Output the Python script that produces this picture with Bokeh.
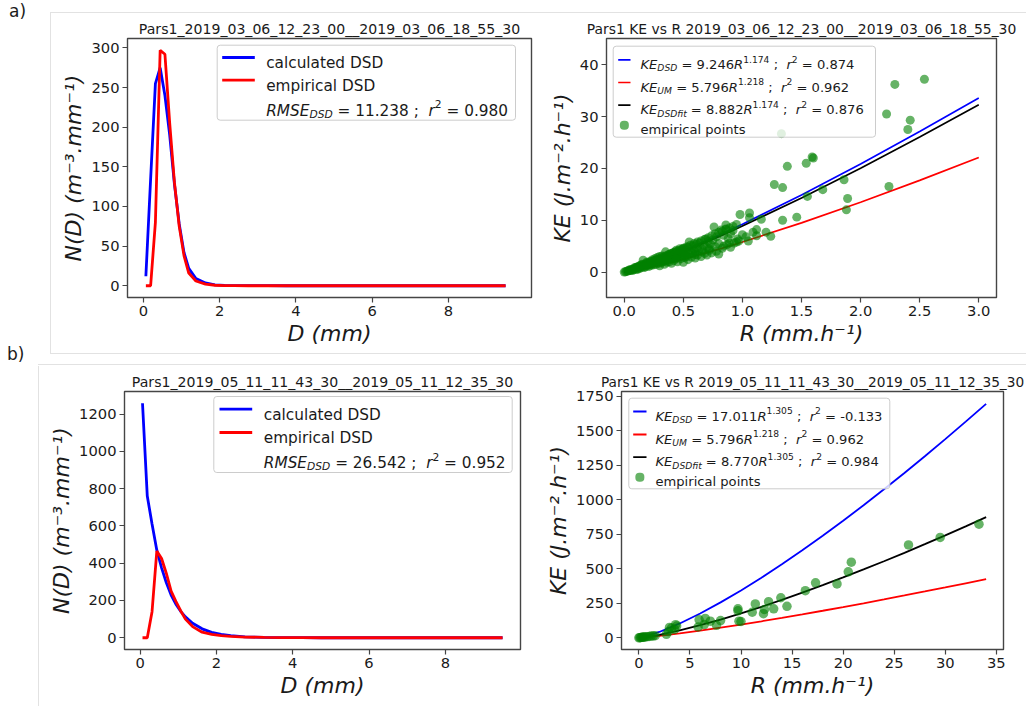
from bokeh.plotting import figure
from bokeh.layouts import column, row
from bokeh.models import Label, BoxAnnotation, Arrow, Range1d, FixedTicker, NumeralTickFormatter, Div
from bokeh.embed import file_html
from bokeh.resources import INLINE

# ---------------- data ----------------
D_CLASSES = [0.062, 0.187, 0.312, 0.437, 0.562, 0.687, 0.812, 0.937, 1.062, 1.187, 1.375, 1.625,
             1.875, 2.125, 2.375, 2.75, 3.25, 3.75, 4.25, 4.75, 5.5, 6.5, 7.5, 8.5, 9.5]
A_CALC = [12, 135, 255, 275, 240, 190, 128, 78, 42, 22, 9, 3.5, 1.2, 0.4, 0.15, 0.05, 0.02, 0, 0, 0, 0, 0, 0, 0, 0]
A_EMP = [0, 0, 80, 297, 292, 205, 130, 75, 38, 16, 6, 2, 0.6, 0.2, 0.1, 0, 0, 0, 0, 0, 0, 0, 0, 0, 0]
B_CALC = [1258, 760, 610, 470, 375, 295, 229, 180, 142, 112, 78, 48, 29, 18, 11, 5, 2, 0.8, 0.3, 0.1, 0, 0, 0, 0, 0]
B_EMP = [0, 0, 140, 465, 425, 345, 250, 195, 145, 100, 60, 30, 18, 11, 7, 4, 2, 1, 0.5, 0.2, 0, 0, 0, 0, 0]

A_LINE_R = [0, 0.1, 0.2, 0.3, 0.4, 0.5, 0.6, 0.7, 0.8, 0.9, 1.0, 1.5, 2.0, 2.5, 3.0]
A_KE_DSD = [0, 0.619, 1.398, 2.250, 3.154, 4.098, 5.076, 6.083, 7.115, 8.170, 9.246, 14.883, 20.862, 27.110, 33.580]
A_KE_UM = [0, 0.351, 0.816, 1.337, 1.899, 2.492, 3.111, 3.754, 4.417, 5.098, 5.796, 9.498, 13.483, 17.694, 22.093]
A_KE_FIT = [0, 0.595, 1.343, 2.161, 3.030, 3.936, 4.876, 5.843, 6.835, 7.848, 8.882, 14.297, 20.040, 26.043, 32.258]

A_PTS_R = [0.00, 0.01, 0.02, 0.03, 0.04, 0.05, 0.06, 0.07, 0.08, 0.09,
           0.10, 0.10, 0.12, 0.12, 0.13, 0.14, 0.14, 0.15, 0.16, 0.16,
           0.17, 0.18, 0.18, 0.19, 0.20, 0.20, 0.21, 0.22, 0.22, 0.23,
           0.24, 0.24, 0.25, 0.26, 0.26, 0.27, 0.28, 0.28, 0.29, 0.30,
           0.30, 0.30, 0.31, 0.32, 0.32, 0.33, 0.34, 0.34, 0.35, 0.35,
           0.36, 0.36, 0.37, 0.38, 0.38, 0.39, 0.40, 0.40, 0.40, 0.41,
           0.42, 0.42, 0.43, 0.44, 0.44, 0.45, 0.45, 0.46, 0.47, 0.48,
           0.48, 0.49, 0.50, 0.50, 0.50, 0.51, 0.52, 0.52, 0.53, 0.54,
           0.54, 0.55, 0.55, 0.56, 0.57, 0.58, 0.58, 0.59, 0.60, 0.60,
           0.61, 0.62, 0.62, 0.63, 0.64, 0.65, 0.66, 0.67, 0.68, 0.69,
           0.70, 0.70, 0.71, 0.72, 0.73, 0.74, 0.75, 0.76, 0.77, 0.78,
           0.80, 0.80, 0.82, 0.83, 0.84, 0.86, 0.86, 0.87, 0.88, 0.90,
           0.90, 0.92, 0.93, 0.95, 0.96, 0.98, 1.00, 1.03, 1.05, 1.06,
           1.06, 1.09, 1.12, 1.12, 1.16, 1.20, 1.24, 1.27, 1.33, 1.34,
           1.34, 1.38, 1.46, 1.54, 1.55, 1.59, 1.60, 1.68, 1.86, 1.88,
           1.89, 2.22, 2.24, 2.29, 2.40, 2.42, 2.54,
           0.05, 0.07, 0.09, 0.11, 0.11, 0.13, 0.15, 0.17, 0.19, 0.21,
           0.23, 0.25, 0.27, 0.29, 0.31, 0.33, 0.35, 0.37, 0.39, 0.41,
           0.43, 0.45, 0.47, 0.49, 0.51, 0.53, 0.56, 0.59, 0.62, 0.65,
           0.68, 0.71, 0.74, 0.77, 0.80, 0.83, 0.86, 0.89, 0.92, 0.95,
           0.36, 0.44, 0.52, 0.60, 0.66, 0.72, 0.78, 0.84, 0.89, 0.97]
A_PTS_KE = [0.0, 0.05, 0.15, 0.2, 0.3, 0.35, 0.4, 0.55, 0.5, 0.7,
            0.6, 0.9, 0.8, 1.1, 0.7, 1.0, 1.3, 0.9, 1.4, 2.3,
            1.2, 1.6, 1.0, 1.9, 1.3, 1.8, 1.1, 1.5, 2.1, 1.3,
            1.7, 2.4, 1.4, 1.9, 2.6, 1.5, 2.0, 2.8, 1.7, 1.2,
            2.2, 3.0, 1.8, 2.4, 3.1, 2.0, 1.5, 2.7, 3.9, 2.2,
            1.9, 3.0, 2.5, 2.0, 3.4, 2.8, 1.7, 2.5, 3.6, 3.0,
            2.2, 3.8, 2.7, 3.2, 4.2, 2.0, 2.9, 3.5, 4.5, 2.6,
            3.9, 3.1, 1.9, 3.4, 4.6, 2.8, 3.7, 4.3, 3.0, 2.4,
            4.8, 3.5, 5.8, 4.0, 2.9, 3.6, 5.1, 4.4, 2.7, 3.9,
            5.4, 3.3, 4.7, 4.1, 5.6, 3.0, 4.4, 5.2, 3.6, 6.4,
            3.3, 4.8, 5.9, 4.2, 5.4, 3.7, 6.2, 8.7, 4.9, 6.8,
            3.5, 5.5, 8.1, 4.6, 7.1, 9.1, 8.3, 5.3, 6.5, 4.8,
            7.4, 8.0, 5.6, 5.8, 6.4, 11.1, 7.2, 6.8, 6.0, 11.4,
            10.5, 7.7, 7.0, 8.2, 10.2, 7.7, 6.9, 16.9, 26.7, 16.3,
            10.0, 20.4, 10.6, 21.0, 14.6, 22.2, 22.0, 15.9, 17.8, 12.0,
            14.2, 30.5, 16.5, 36.2, 27.5, 29.3, 37.2,
            0.5, 0.3, 0.9, 0.5, 1.0, 1.2, 1.5, 0.9, 1.4, 1.7,
            2.0, 2.2, 2.4, 2.5, 2.7, 2.9, 3.1, 3.3, 3.5, 3.7,
            3.9, 4.0, 4.2, 4.4, 4.6, 4.9, 5.2, 5.5, 5.8, 6.0,
            6.3, 6.6, 7.0, 7.4, 7.7, 7.9, 8.2, 8.5, 8.8, 9.2,
            2.4, 2.6, 3.1, 3.4, 3.9, 4.5, 4.0, 5.0, 5.6, 6.0]

B_LINE_R = [0, 0.5, 1, 2, 4, 6, 8, 10, 12, 14, 16, 18, 20, 22, 24, 26, 28, 30, 32, 34]
B_KE_DSD = [0, 6.88, 17.01, 42.03, 103.9, 176.3, 256.6, 343.3, 435.6, 532.6, 634.0, 739.5, 848.4,
            960.6, 1076.3, 1194.7, 1316.0, 1440.1, 1566.5, 1695.5]
B_KE_UM = [0, 2.49, 5.80, 13.48, 31.36, 51.40, 72.95, 95.75, 119.6, 144.3, 169.7, 195.9, 222.7,
           250.1, 278.1, 306.6, 335.6, 365.0, 394.8, 425.2]
B_KE_FIT = [0, 3.55, 8.77, 21.67, 53.5, 90.9, 132.3, 177.0, 224.6, 274.6, 326.9, 381.2, 437.4,
            495.2, 554.9, 615.9, 678.5, 742.5, 807.6, 874.1]

B_PTS_R = [0.0, 0.1, 0.2, 0.3, 0.4, 0.5, 0.6, 0.8, 1.0, 1.2,
           1.4, 1.6, 2.7, 2.9, 3.0, 3.2, 3.5, 3.6, 3.7, 5.8,
           5.9, 6.4, 6.5, 7.0, 7.6, 8.0, 9.7, 9.7, 9.8, 10.0,
           11.1, 11.4, 12.2, 12.3, 12.7, 13.2, 13.9, 14.5, 16.3, 17.3,
           19.4, 20.5, 20.8, 26.4, 29.5, 33.3]
B_PTS_KE = [0, 1, 2, 3, 4, 5, 6, 8, 10, 12,
            13, 15, 25, 45, 75, 70, 60, 95, 85, 78,
            130, 96, 140, 120, 90, 125, 210, 195, 120, 118,
            185, 245, 175, 205, 262, 210, 290, 228, 341, 398,
            390, 478, 548, 673, 727, 823]

TITLES = ["Pars1_2019_03_06_12_23_00__2019_03_06_18_55_30",
          "Pars1 KE vs R 2019_03_06_12_23_00__2019_03_06_18_55_30",
          "Pars1_2019_05_11_11_43_30__2019_05_11_12_35_30",
          "Pars1 KE vs R 2019_05_11_11_43_30__2019_05_11_12_35_30"]
PANEL_LETTERS = ["a)", "b)"]
XLABEL_DSD = "D (mm)"
YLABEL_DSD = "N(D) (m\u207b\u00b3.mm\u207b\u00b9)"
XLABEL_KE = "R (mm.h\u207b\u00b9)"
YLABEL_KE = "KE (J.m\u207b\u00b2.h\u207b\u00b9)"

DSD_XTICKS = [0, 2, 4, 6, 8]
A_YTICKS = [0, 50, 100, 150, 200, 250, 300]
B_YTICKS = [0, 200, 400, 600, 800, 1000, 1200]
A_KE_XTICKS = [0.0, 0.5, 1.0, 1.5, 2.0, 2.5, 3.0]
A_KE_YTICKS = [0, 10, 20, 30, 40]
B_KE_XTICKS = [0, 5, 10, 15, 20, 25, 30, 35]
B_KE_YTICKS = [0, 250, 500, 750, 1000, 1250, 1500, 1750]

# ---------------- styling helpers ----------------
FONT = "DejaVu Sans"
TXT = "#1a1a1a"
SPINE = "#454545"
BLUE, RED, BLACK, GREEN = "#0000ff", "#ff0000", "#000000", "#008000"
PANEL_LINE = "#e2e2e2"

W = {' ': 0.318, '(': 0.390, ')': 0.390, '.': 0.318, ';': 0.337, '=': 0.838, '-': 0.361,
     'D': 0.770, 'E': 0.632, 'K': 0.656, 'M': 0.863, 'R': 0.695, 'S': 0.635, 'U': 0.732,
     'f': 0.352, 'i': 0.278, 't': 0.392, 'r': 0.411}
for _c in "0123456789":
    W[_c] = 0.636


def tw(s):
    return sum(W.get(c, 0.6) for c in s)


def make_fig(width, height, bl, br, bt, bb, xr, yr, title, tsize):
    p = figure(width=width, height=height, x_range=Range1d(*xr), y_range=Range1d(*yr),
               output_backend="svg", toolbar_location=None,
               min_border_left=bl, min_border_right=br, min_border_top=bt, min_border_bottom=bb,
               title=title)
    p.margin = 0
    p.title.align = "center"
    p.title.text_font = FONT
    p.title.text_font_size = tsize
    p.title.text_font_style = "normal"
    p.title.text_color = TXT
    p.title.standoff = 4
    p.xgrid.visible = False
    p.ygrid.visible = False
    p.outline_line_color = SPINE
    p.outline_line_width = 1.4
    p.background_fill_color = "white"
    p.border_fill_color = "white"
    for ax in (p.xaxis[0], p.yaxis[0]):
        ax.axis_line_color = None
        ax.major_tick_line_color = SPINE
        ax.major_tick_line_width = 1.2
        ax.major_tick_out = 5
        ax.major_tick_in = 0
        ax.minor_tick_line_color = None
        ax.major_label_text_font = FONT
        ax.major_label_text_font_size = "14.7px"
        ax.major_label_text_color = TXT
        ax.major_label_standoff = 3
        ax.axis_label_text_font = FONT
        ax.axis_label_text_font_size = "22px"
        ax.axis_label_text_font_style = "italic"
        ax.axis_label_text_color = TXT
        ax.axis_label_standoff = 2
    return p


def s_label(p, x, y, text, size, style="normal", color=TXT, align="left", alpha=1.0):
    p.add_layout(Label(x=x, y=y, x_units="screen", y_units="screen", text=text,
                       text_font=FONT, text_font_size=f"{size}px", text_font_style=style,
                       text_color=color, text_align=align, text_baseline="alphabetic",
                       text_alpha=alpha))


def s_line(p, x0, y0, x1, y1, color, width):
    p.add_layout(Arrow(end=None, x_start=x0, y_start=y0, x_end=x1, y_end=y1,
                       start_units="screen", end_units="screen",
                       line_color=color, line_width=width))


def s_box(p, l, r, b, t, fill, falpha, line, radius):
    p.add_layout(BoxAnnotation(left=l, right=r, bottom=b, top=t,
                               left_units="screen", right_units="screen",
                               bottom_units="screen", top_units="screen",
                               fill_color=fill, fill_alpha=falpha,
                               line_color=line if line else "white", line_alpha=1.0 if line else 0,
                               line_width=1, border_radius=int(radius)))


def rich(p, x0, yc, parts, fs):
    """parts: (text, italic, kind) with kind 'n' / 'sub' / 'sup'"""
    base = yc - 0.36 * fs
    x = x0
    for txt, ital, kind in parts:
        size = fs * 0.7 if kind != "n" else fs
        lead = len(txt) - len(txt.lstrip(' '))
        trail = len(txt) - len(txt.rstrip(' ')) if txt.strip(' ') else 0
        core = txt.strip(' ')
        x += lead * W[' '] * size
        dy = {"n": 0.0, "sub": -0.24 * fs, "sup": 0.42 * fs}[kind]
        if core:
            s_label(p, x, base + dy, core, round(size, 2), "italic" if ital else "normal")
        x += tw(core) * size + trail * W[' '] * size


def ke_legend(p, rows, fs, box, sw, xtext, ys, lw):
    s_box(p, box[0], box[1], box[2], box[3], "white", 0.8, "#cccccc", 3)
    colors = [BLUE, RED, BLACK]
    for i, parts in enumerate(rows):
        s_line(p, sw[0], ys[i], sw[1], ys[i], colors[i], lw)
        rich(p, xtext, ys[i], parts, fs)
    cx = (sw[0] + sw[1]) / 2
    s_box(p, cx - 4.5, cx + 4.5, ys[3] - 4.5, ys[3] + 4.5, GREEN, 0.6, None, 4)
    rich(p, xtext, ys[3], [("empirical points", False, "n")], fs)


def dsd_legend(p, stat_parts, fs, box, sw, xtext, ys, lw):
    s_box(p, box[0], box[1], box[2], box[3], "white", 0.8, "#cccccc", 3)
    s_line(p, sw[0], ys[0], sw[1], ys[0], BLUE, lw)
    rich(p, xtext, ys[0], [("calculated DSD", False, "n")], fs)
    s_line(p, sw[0], ys[1], sw[1], ys[1], RED, lw)
    rich(p, xtext, ys[1], [("empirical DSD", False, "n")], fs)
    rich(p, xtext, ys[2], stat_parts, fs)


# ---------------- panel a) left : DSD ----------------
tl = make_fig(497, 366, 81, 12, 38, 66, (-0.42, 10.18), (-14.85, 311.85), TITLES[0], "14.1px")
tl.line(D_CLASSES, A_CALC, line_color=BLUE, line_width=2.8)
tl.line(D_CLASSES, A_EMP, line_color=RED, line_width=2.8)
tl.xaxis.ticker = FixedTicker(ticks=DSD_XTICKS)
tl.yaxis.ticker = FixedTicker(ticks=A_YTICKS)
tl.xaxis.axis_label = XLABEL_DSD
tl.yaxis.axis_label = YLABEL_DSD
dsd_legend(tl, [("RMSE", True, "n"), ("DSD", True, "sub"), (" = 11.238 ;  ", False, "n"),
                ("r", True, "n"), ("2", False, "sup"), (" = 0.980", False, "n")],
           15.3, (89.7, 388, 177.3, 252.3), (94.7, 127.3), 138.7, (240, 217.3, 192.3), 2.8)

# ---------------- panel a) right : KE vs R ----------------
tr = make_fig(483, 366, 63, 30, 38, 69, (-0.15, 3.15), (-4.9, 45.05), TITLES[1], "13.9px")
tr.line(A_LINE_R, A_KE_DSD, line_color=BLUE, line_width=1.7)
tr.line(A_LINE_R, A_KE_UM, line_color=RED, line_width=1.7)
tr.line(A_LINE_R, A_KE_FIT, line_color=BLACK, line_width=1.7)
tr.scatter(A_PTS_R, A_PTS_KE, size=9, fill_color=GREEN, fill_alpha=0.6, line_color=None)
tr.xaxis.ticker = FixedTicker(ticks=A_KE_XTICKS)
tr.xaxis.formatter = NumeralTickFormatter(format="0.0")
tr.yaxis.ticker = FixedTicker(ticks=A_KE_YTICKS)
tr.xaxis.axis_label = XLABEL_KE
tr.yaxis.axis_label = YLABEL_KE
ke_legend(tr, [
    [("KE", True, "n"), ("DSD", True, "sub"), (" = 9.246", False, "n"), ("R", True, "n"),
     ("1.174", False, "sup"), (" ;  ", False, "n"), ("r", True, "n"), ("2", False, "sup"), (" = 0.874", False, "n")],
    [("KE", True, "n"), ("UM", True, "sub"), (" = 5.796", False, "n"), ("R", True, "n"),
     ("1.218", False, "sup"), (" ;  ", False, "n"), ("r", True, "n"), ("2", False, "sup"), (" = 0.962", False, "n")],
    [("KE", True, "n"), ("DSDfit", True, "sub"), (" = 8.882", False, "n"), ("R", True, "n"),
     ("1.174", False, "sup"), (" ;  ", False, "n"), ("r", True, "n"), ("2", False, "sup"), (" = 0.876", False, "n")],
], 13.1, (6.7, 269, 160.3, 251.3), (11.7, 24), 34, (237.7, 215, 192.3, 172.3), 1.7)

# ---------------- panel b) left : DSD ----------------
bl = make_fig(497, 340, 78, 23, 25, 54, (-0.41, 9.97), (-62.9, 1321), TITLES[2], "14.1px")
bl.line(D_CLASSES, B_CALC, line_color=BLUE, line_width=2.8)
bl.line(D_CLASSES, B_EMP, line_color=RED, line_width=2.8)
bl.xaxis.ticker = FixedTicker(ticks=DSD_XTICKS)
bl.yaxis.ticker = FixedTicker(ticks=B_YTICKS)
bl.xaxis.axis_label = XLABEL_DSD
bl.yaxis.axis_label = YLABEL_DSD
dsd_legend(bl, [("RMSE", True, "n"), ("DSD", True, "sub"), (" = 26.542 ;  ", False, "n"),
                ("r", True, "n"), ("2", False, "sup"), (" = 0.952", False, "n")],
           15.3, (89.3, 387.7, 177, 253), (95, 127.7), 139.3, (240.3, 217, 192), 2.8)

# ---------------- panel b) right : KE vs R ----------------
br = make_fig(483, 340, 77, 23, 25, 57, (-1.7, 35.7), (-85, 1785), TITLES[3], "13.7px")
br.line(B_LINE_R, B_KE_DSD, line_color=BLUE, line_width=1.8)
br.line(B_LINE_R, B_KE_UM, line_color=RED, line_width=1.8)
br.line(B_LINE_R, B_KE_FIT, line_color=BLACK, line_width=1.8)
br.scatter(B_PTS_R, B_PTS_KE, size=9.5, fill_color=GREEN, fill_alpha=0.6, line_color=None)
br.xaxis.ticker = FixedTicker(ticks=B_KE_XTICKS)
br.yaxis.ticker = FixedTicker(ticks=B_KE_YTICKS)
br.xaxis.axis_label = XLABEL_KE
br.yaxis.axis_label = YLABEL_KE
ke_legend(br, [
    [("KE", True, "n"), ("DSD", True, "sub"), (" = 17.011", False, "n"), ("R", True, "n"),
     ("1.305", False, "sup"), (" ;  ", False, "n"), ("r", True, "n"), ("2", False, "sup"), (" = -0.133", False, "n")],
    [("KE", True, "n"), ("UM", True, "sub"), (" = 5.796", False, "n"), ("R", True, "n"),
     ("1.218", False, "sup"), (" ;  ", False, "n"), ("r", True, "n"), ("2", False, "sup"), (" = 0.962", False, "n")],
    [("KE", True, "n"), ("DSDfit", True, "sub"), (" = 8.770", False, "n"), ("R", True, "n"),
     ("1.305", False, "sup"), (" ;  ", False, "n"), ("r", True, "n"), ("2", False, "sup"), (" = 0.984", False, "n")],
], 13.1, (7.3, 268.3, 160.7, 251.3), (11.7, 25), 34, (238, 215, 192.3, 172.3), 1.8)

# ---------------- left strips: panel letters and faint panel frames ----------------
def hline(left, top, width):
    return (f'<div style="position:absolute;left:{left}px;top:{top}px;width:{width}px;height:1px;'
            f'background:{PANEL_LINE};z-index:20;pointer-events:none"></div>')


def vline(left, top, height):
    return (f'<div style="position:absolute;left:{left}px;top:{top}px;width:1px;height:{height}px;'
            f'background:{PANEL_LINE};z-index:20;pointer-events:none"></div>')


def letter(left, top, text):
    return (f'<div style="position:absolute;left:{left}px;top:{top}px;font-family:\'DejaVu Sans\';'
            f'font-size:17px;line-height:17px;color:{TXT};white-space:nowrap">{text}</div>')


strip_a_html = ('<div style="position:relative;width:46px;height:366px;overflow:visible">'
                + hline(50, 12, 976) + vline(50, 12, 341) + hline(50, 353, 976) + hline(38, 364, 988)
                + letter(9, 3, PANEL_LETTERS[0]) + letter(7, 346, PANEL_LETTERS[1])
                + '</div>')
strip_b_html = ('<div style="position:relative;width:46px;height:340px;overflow:visible">'
                + vline(38, 0, 340) + '</div>')

strip_a = Div(text=strip_a_html, width=46, height=366, margin=0)
strip_b = Div(text=strip_b_html, width=46, height=340, margin=0)

row_a = row(strip_a, tl, tr, width=1026, height=366)
row_b = row(strip_b, bl, br, width=1026, height=340)
layout = column(row_a, row_b, width=1026, height=706)

open("out.html", "w").write(file_html(layout, INLINE))
